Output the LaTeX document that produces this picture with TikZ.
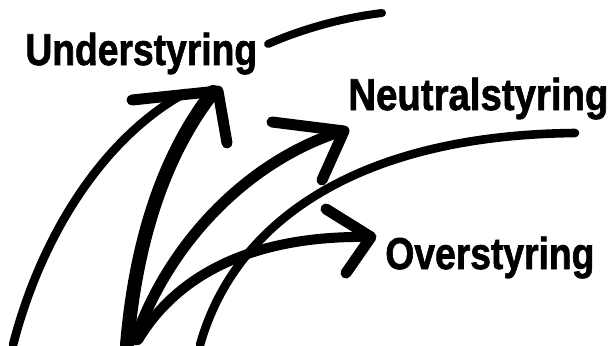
\documentclass[tikz,border=0pt]{standalone}
\usepackage{fontspec}
\setmainfont{Liberation Sans}
\newfontfamily\labfont{Liberation Sans}[BoldFeatures={FakeBold=1.6}]
\begin{document}
\begin{tikzpicture}[x=0.5pt,y=-0.5pt,
  brush/.style={draw=black,line cap=round,line join=round},
  lab/.style={anchor=base west,inner sep=0pt,font=\labfont\fontsize{22.3}{26}\selectfont\bfseries}]
\useasboundingbox[fill=white] (0,0) rectangle (610,345);
% labels
\node[lab] (u) at (25,65) {\scalebox{0.835}[1]{Understyring}};
\node[lab] (n) at (348,110) {\scalebox{0.86}[1]{Neutralstyring}};
\node[lab] (o) at (385,269) {\scalebox{0.835}[1]{Overstyring}};
% long background curves
\draw[brush,line width=4.3pt] (13,345) .. controls (40,240) and (100,140) .. (185,93);
\draw[brush,line width=4pt] (268,44) .. controls (300,30) and (340,18) .. (382,13);
\draw[brush,line width=4.3pt] (200,345) .. controls (235,220) and (360,135) .. (575,133);
% Understyring arrow
\draw[brush,line width=7pt] (127,345) .. controls (135,250) and (160,160) .. (213,92);
\draw[brush,line width=5.5pt] (132,100) -- (218,91) -- (227,143);
% Neutralstyring arrow
\draw[brush,line width=5.5pt] (135,340) .. controls (170,240) and (250,160) .. (342,131);
\draw[brush,line width=5.5pt] (272,122) -- (344,131) -- (322,180);
% Overstyring arrow
\draw[brush,line width=5pt] (138,340) .. controls (180,270) and (260,235) .. (370,237);
\draw[brush,line width=5.5pt] (326,209) -- (371,237) -- (346,273);
\end{tikzpicture}
\end{document}
